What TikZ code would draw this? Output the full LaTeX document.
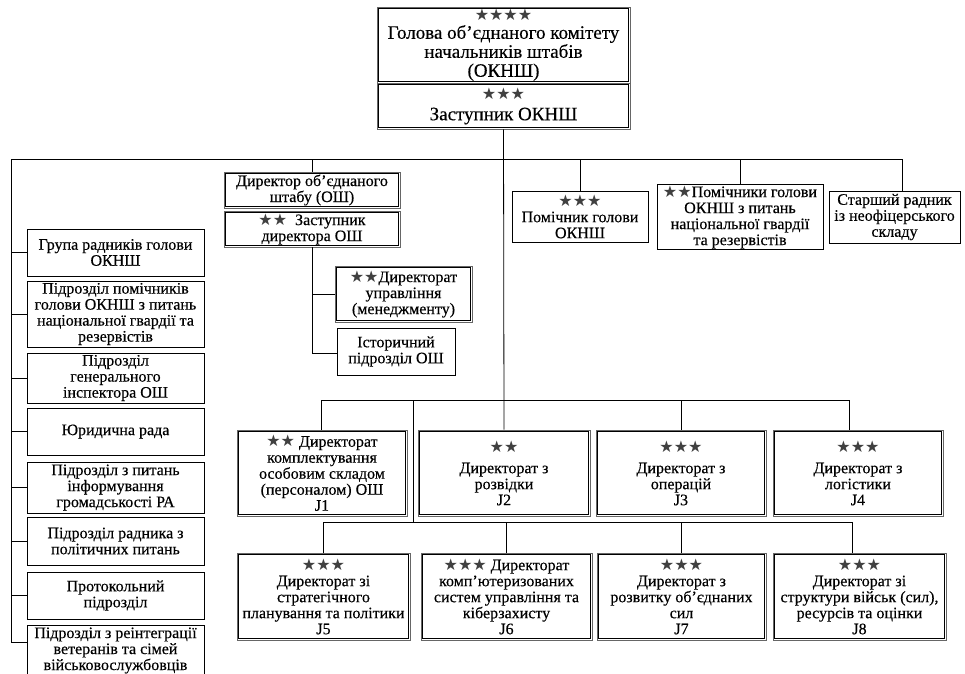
\documentclass[tikz,border=0pt]{standalone}
\usepackage{fontspec}
\setmainfont{Liberation Serif}[FakeBold=0.3]
\newfontfamily\starfont{DejaVu Sans}
\definecolor{starc}{HTML}{404040}
\newcommand\stars[1]{{\starfont\fontsize{16}{16}\selectfont\color{starc}#1}}
\newcommand\fs[2]{\fontsize{#1}{#2}\selectfont\lineskiplimit=-20pt\relax}
\tikzset{
  box/.style={align=center, inner sep=1pt, font=\fs{16}{16}},
  plain/.style={box, draw, line width=0.6pt},
  heavy/.style={box, draw, line width=0.9pt},
  dbl/.style={box, draw=black!60, line width=0.6pt},
  inner/.style={draw, line width=0.9pt},
  conn/.style={draw, line width=0.8pt},
}
% name, x1, y1, x2, y2, style, text
\newcommand\bx[7]{%
  \node[#6, minimum width={(#4-#2)*1pt}, minimum height={(#5-#3)*1pt}]
    (#1) at ({(#2+#4)/2},{(#3+#5)/2}) {#7};}
\newcommand\inbox[1]{\path[inner] ([shift={(1.8,1.8)}]#1.north west) rectangle ([shift={(-1.8,-1.8)}]#1.south east);}
\begin{document}
\begin{tikzpicture}[x=1pt,y=-1pt]
\useasboundingbox (0,0) rectangle (965,673);
\clip (0,0) rectangle (965,673);
\fill[white] (0,0) rectangle (965,673);
% top
\bx{top}{377}{7}{630}{83}{dbl,font=\fs{19}{19}}{\stars{★★★★}\\[-1pt]Голова об'єднаного комітету\\начальників штабів\\(ОКНШ)}
\bx{dep}{377}{83}{630}{129}{dbl,font=\fs{19}{19}}{\stars{★★★}\\[2pt]Заступник ОКНШ}
% left column
\bx{L1}{27}{229}{204}{276}{heavy}{Група радників голови\\ОКНШ}
\bx{L2}{27}{281}{204}{347}{heavy}{Підрозділ помічників\\голови ОКНШ з питань\\національної гвардії та\\резервістів}
\bx{L3}{27}{353}{204}{403}{heavy}{Підрозділ\\генерального\\інспектора ОШ}
\bx{L4}{27}{408}{204}{455}{heavy}{Юридична рада}
\bx{L5}{27}{462}{204}{513}{heavy}{Підрозділ з питань\\інформування\\громадськості РА}
\bx{L6}{27}{517}{204}{565}{heavy}{Підрозділ радника з\\політичних питань}
\bx{L7}{27}{572}{204}{619}{heavy}{Протокольний\\підрозділ}
\node[heavy, minimum width=177pt, anchor=north, inner sep=2pt] (L8) at (115.5,625) {Підрозділ з реінтеграції\\ветеранів та сімей\\військовослужбовців\\[6pt]};
% director of joint staff
\bx{dir}{224}{172}{400}{208}{dbl}{Директор об'єднаного\\штабу (ОШ)}
\bx{ddep}{224}{211}{400}{247}{dbl}{\stars{★★}\enspace Заступник\\директора ОШ}
\bx{mgmt}{335}{266}{472}{322}{dbl}{\stars{★★}Директорат\\управління\\(менеджменту)}
\bx{hist}{337}{328}{455}{375}{plain}{Історичний\\підрозділ ОШ}
% right top
\bx{A}{512}{191}{648}{242}{plain}{\stars{★★★}\\Помічник голови\\ОКНШ}
\bx{B}{657}{191}{823}{243}{plain}{\stars{★★}Помічники голови\\ОКНШ з питань\\національної гвардії\\та резервістів}
\bx{C}{829}{191}{960}{243}{plain}{Старший радник\\із неофіцерського\\складу}
% J row
\bx{J1}{237}{430}{407}{516}{dbl}{\stars{★★} Директорат\\комплектування\\особовим складом\\(персоналом) ОШ\\J1}
\bx{J2}{418}{430}{590}{516}{dbl}{\stars{★★}\\[5pt]Директорат з\\розвідки\\J2}
\bx{J3}{596}{430}{766}{516}{dbl}{\stars{★★★}\\[5pt]Директорат з\\операцій\\J3}
\bx{J4}{773}{430}{943}{516}{dbl}{\stars{★★★}\\[5pt]Директорат з\\логістики\\J4}
\bx{J5}{237}{553}{410}{640}{dbl}{\stars{★★★}\\Директорат зі\\стратегічного\\планування та політики\\J5}
\bx{J6}{421}{553}{592}{640}{dbl}{\stars{★★★} Директорат\\комп'ютеризованих\\систем управління та\\кіберзахисту\\J6}
\bx{J7}{597}{553}{766}{640}{dbl}{\stars{★★★}\\Директорат з\\розвитку об'єднаних\\сил\\J7}
\bx{J8}{773}{553}{946}{640}{dbl}{\stars{★★★}\\Директорат зі\\структури військ (сил),\\ресурсів та оцінки\\J8}
\foreach \n in {top,dep,dir,ddep,mgmt,J1,J2,J3,J4,J5,J6,J7,J8} {\inbox{\n}}
% coordinates
\coordinate (hL) at (11,159);
\coordinate (hR) at (902,159);
\coordinate (lvB) at (11,642);
\coordinate (dv) at (312,353);
\coordinate (jL) at (321,400);
\coordinate (jR) at (849,400);
\coordinate (jD) at (413,400);
\coordinate (kL) at (323,522);
\coordinate (kR) at (852,522);
\coordinate (kD) at (413,522);
% connectors
\path[conn] (dep.south) -- (J2.north);
\path[conn] (hL) -- (hR);
\path[conn] (hL) -- (lvB);
\foreach \n in {L1,L2,L3,L4,L5,L6,L7} \path[conn] (hL |- \n.west) -- (\n.west);
\path[conn] (lvB) -- (lvB -| L8.west);
\path[conn] (hL -| dir.north) -- (dir.north);
\path[conn] (ddep.south) -- (dv);
\path[conn] (ddep.south |- mgmt.west) -- (mgmt.west);
\path[conn] (dv) -- (dv -| hist.west);
\path[conn] (hL -| A.north) -- (A.north);
\path[conn] (hL -| B.north) -- (B.north);
\path[conn] (hR) -- (hR |- C.north);
\path[conn] (jL) -- (jR);
\path[conn] (jL) -- (jL |- J1.north);
\path[conn] (jL -| J3.north) -- (J3.north);
\path[conn] (jR) -- (jR |- J4.north);
\path[conn] (jD) -- (kD);
\path[conn] (kL) -- (kR);
\path[conn] (kL) -- (kL |- J5.north);
\path[conn] (kL -| J6.north) -- (J6.north);
\path[conn] (kL -| J7.north) -- (J7.north);
\path[conn] (kR) -- (kR |- J8.north);
\end{tikzpicture}
\end{document}
